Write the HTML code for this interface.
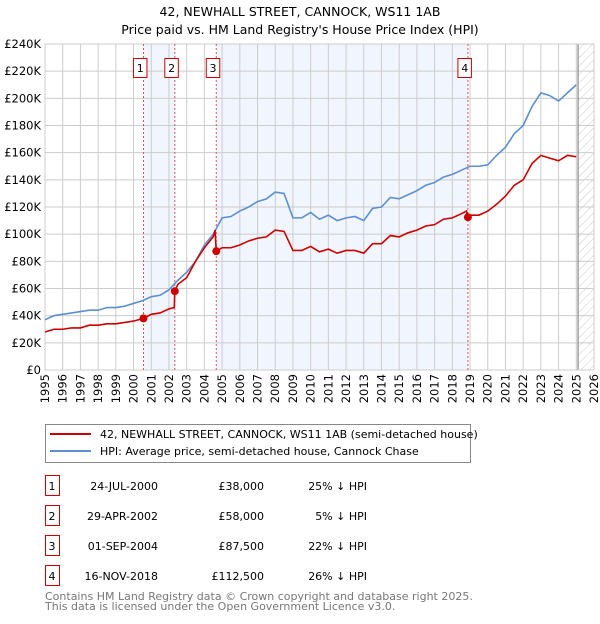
<!DOCTYPE html>
<html><head><meta charset="utf-8"><style>
body{margin:0;width:600px;height:620px;background:#fff;font-family:"DejaVu Sans","Liberation Sans",sans-serif;overflow:hidden}
svg text{font-family:"DejaVu Sans","Liberation Sans",sans-serif}
</style></head><body>
<svg id="chart" width="600" height="620">
<defs><pattern id="hatch" width="6" height="6" patternUnits="userSpaceOnUse" patternTransform="rotate(45)"><line x1="0" y1="0" x2="0" y2="6" stroke="#bbb" stroke-width="0.8"/></pattern></defs>
<text x="300" y="16" text-anchor="middle" font-size="12.5">42, NEWHALL STREET, CANNOCK, WS11 1AB</text>
<text x="300" y="34" text-anchor="middle" font-size="12.5">Price paid vs. HM Land Registry's House Price Index (HPI)</text>
<g id="plot"></g>
<g>
<rect x="45.5" y="424.5" width="425" height="38" fill="#fff" stroke="#888"/>
<line x1="50" y1="434" x2="91" y2="434" stroke="#cc0000" stroke-width="2"/>
<text x="100" y="438" font-size="11">42, NEWHALL STREET, CANNOCK, WS11 1AB (semi-detached house)</text>
<line x1="50" y1="451" x2="91" y2="451" stroke="#5b8fd0" stroke-width="2"/>
<text x="100" y="455" font-size="11">HPI: Average price, semi-detached house, Cannock Chase</text>
</g>
<g id="table" font-size="11"></g>
<text x="45" y="600" font-size="11" fill="#777">Contains HM Land Registry data © Crown copyright and database right 2025.</text>
<text x="45" y="610" font-size="11" fill="#777">This data is licensed under the Open Government Licence v3.0.</text>
</svg>
<script>
const hpiYears=[1995,1995.5,1996,1996.5,1997,1997.5,1998,1998.5,1999,1999.5,2000,2000.5,2001,2001.5,2002,2002.5,2003,2003.5,2004,2004.5,2005,2005.5,2006,2006.5,2007,2007.5,2008,2008.5,2009,2009.5,2010,2010.5,2011,2011.5,2012,2012.5,2013,2013.5,2014,2014.5,2015,2015.5,2016,2016.5,2017,2017.5,2018,2018.5,2019,2019.5,2020,2020.5,2021,2021.5,2022,2022.5,2023,2023.5,2024,2024.5,2025];
const hpiValues=[37,40,41,42,43,44,44,46,46,47,49,51,54,55,59,66,72,80,92,100,112,113,117,120,124,126,131,130,112,112,116,111,114,110,112,113,110,119,120,127,126,129,132,136,138,142,144,147,150,150,151,158,164,174,180,194,204,202,198,204,210];
const priceYears=[1995,1995.5,1996,1996.5,1997,1997.5,1998,1998.5,1999,1999.5,2000,2000.56,2001,2001.5,2002,2002.3,2002.33,2002.5,2003,2003.5,2004,2004.5,2004.6,2004.67,2005,2005.5,2006,2006.5,2007,2007.5,2008,2008.5,2009,2009.5,2010,2010.5,2011,2011.5,2012,2012.5,2013,2013.5,2014,2014.5,2015,2015.5,2016,2016.5,2017,2017.5,2018,2018.5,2018.8,2018.88,2019,2019.5,2020,2020.5,2021,2021.5,2022,2022.5,2023,2023.5,2024,2024.5,2025];
const priceValues=[28,30,30,31,31,33,33,34,34,35,36,38,41,42,45,46,58,63,68,80,90,98,103,87.5,90,90,92,95,97,98,103,102,88,88,91,87,89,86,88,88,86,93,93,99,98,101,103,106,107,111,112,115,117,112.5,114,114,117,122,128,136,140,152,158,156,154,158,157];
const saleLabels=["1","2","3","4"];
const saleYears=[2000.56,2002.33,2004.67,2018.88];
const salePrices=[38,58,87.5,112.5];
const saleDates=["24-JUL-2000","29-APR-2002","01-SEP-2004","16-NOV-2018"];
const salePriceText=["£38,000","£58,000","£87,500","£112,500"];
const saleHpiText=["25% ↓ HPI","5% ↓ HPI","22% ↓ HPI","26% ↓ HPI"];
const yTicks=[0,20,40,60,80,100,120,140,160,180,200,220,240];
const xTicks=[1995,1996,1997,1998,1999,2000,2001,2002,2003,2004,2005,2006,2007,2008,2009,2010,2011,2012,2013,2014,2015,2016,2017,2018,2019,2020,2021,2022,2023,2024,2025,2026];

const NS="http://www.w3.org/2000/svg";
const X0=45,X1=594,Y0=370,Y1=44;
const xs=y=>X0+(y-1995)/(2026-1995)*(X1-X0);
const ys=v=>Y0-v/240*(Y0-Y1);
const plot=document.getElementById('plot');
function mk(tag,attrs,parent){const e=document.createElementNS(NS,tag);for(const k in attrs)e.setAttribute(k,attrs[k]);(parent||plot).appendChild(e);return e;}

let r=mk('rect',{x:X0,y:Y1,width:X1-X0,height:Y0-Y1,fill:'#fff'});


for(let i=0;i<saleYears.length;i+=2){
  const a=saleYears[i],b=saleYears[i+1];
  const s=mk('rect',{x:xs(a),y:Y1,width:xs(b)-xs(a),height:Y0-Y1,fill:'#eef3fd',opacity:0.8});
  
  
}
const h=mk('rect',{x:xs(2025.1),y:Y1,width:X1-xs(2025.1),height:Y0-Y1,fill:'url(#hatch)'});


yTicks.forEach(t=>{
  mk('line',{x1:X0,x2:X1,y1:ys(t),y2:ys(t),stroke:'#ccc','stroke-width':1});
  const l=mk('text',{x:X0-4,y:ys(t)+4,'text-anchor':'end','font-size':11.5});
  l.textContent=t===0?'£0':'£'+t+'K';
  
  
});
xTicks.forEach((t,i)=>{
  mk('line',{x1:xs(t),x2:xs(t),y1:Y1,y2:Y0,stroke:'#ccc','stroke-width':1});
  const x=xs(t)+4,y=374;
  const l=mk('text',{x:x,y:y,'text-anchor':'end','font-size':11.5,transform:'rotate(-90 '+x+' '+y+')'});
  l.textContent=t;
  
  
});
mk('line',{x1:xs(2025.1),x2:xs(2025.1),y1:Y1,y2:Y0,stroke:'#888','stroke-width':1.2});
mk('rect',{x:X0,y:Y1,width:X1-X0,height:Y0-Y1,fill:'none',stroke:'#ccc'});
saleYears.forEach((y,i)=>{
  const v=mk('line',{x1:xs(y),x2:xs(y),y1:Y1,y2:Y0,stroke:'#e05050','stroke-width':1,'stroke-dasharray':'2,2'});
  
  
});
let p=mk('polyline',{points:hpiYears.map((y,i)=>xs(y)+','+ys(hpiValues[i])).join(' '),fill:'none',stroke:'#5b8fd0','stroke-width':1.6});


p=mk('polyline',{points:priceYears.map((y,i)=>xs(y)+','+ys(priceValues[i])).join(' '),fill:'none',stroke:'#cc0000','stroke-width':1.6});


saleYears.forEach((y,i)=>{
  const c=mk('circle',{cx:xs(y),cy:ys(salePrices[i]),r:4,fill:'#cc0000'});
  
  
  const b=mk('rect',{x:xs(y)-10,y:58.5,width:13.5,height:19,fill:'#fff',stroke:'#cc0000'});
  
  
  const t=mk('text',{x:xs(y)-3.2,y:72,'text-anchor':'middle','font-size':11});
  t.textContent=saleLabels[i];
  
  
});
const tbl=document.getElementById('table');
const rowY=[476,506,536,566];
saleLabels.forEach((s,i)=>{
  const y=rowY[i];
  const b=mk('rect',{x:45.5,y:y-0.5,width:14,height:20,fill:'#fff',stroke:'#cc0000'},tbl);
  
  
  const cells=[[52,'middle',s],[158,'end',saleDates[i]],[264,'end',salePriceText[i]],[367,'end',saleHpiText[i]]];
  cells.forEach(([x,a,txt],j)=>{
    const t=mk('text',{x:x,y:y+14,'text-anchor':a,'font-size':11},tbl);
    t.textContent=txt;
    
    
  });
});
</script>
</body></html>
